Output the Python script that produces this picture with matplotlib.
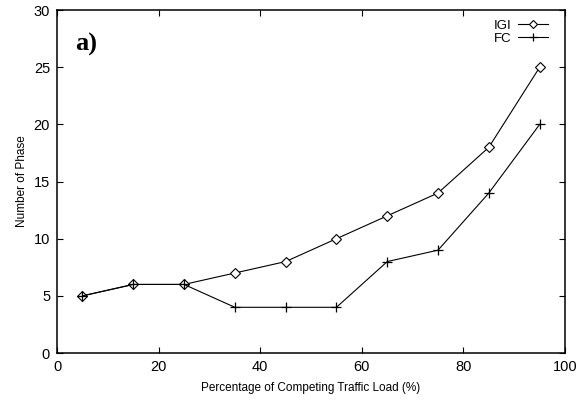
import matplotlib
matplotlib.use('Agg')
import matplotlib.pyplot as plt

# data
load = [5, 15, 25, 35, 45, 55, 65, 75, 85, 95]
igi = [5, 6, 6, 7, 8, 10, 12, 14, 18, 25]
fc = [5, 6, 6, 4, 4, 4, 8, 9, 14, 20]
xticks = [0, 20, 40, 60, 80, 100]
yticks = [0, 5, 10, 15, 20, 25, 30]

plt.rcParams['font.family'] = ['Liberation Sans', 'DejaVu Sans']

fig = plt.figure(figsize=(5.88, 4.03), dpi=100)
ax = fig.add_axes([0.097, 0.124, 0.864, 0.851])

ax.plot(load, igi, color='black', linewidth=0.8, marker='D', markersize=5,
        markerfacecolor='white', markeredgewidth=0.8, label='IGI')
ax.plot(load, fc, color='black', linewidth=0.8, marker='+', markersize=7,
        markeredgewidth=0.9, label='FC')

ax.set_xlim(0, 100)
ax.set_ylim(0, 30)
ax.set_xticks(xticks)
ax.set_yticks(yticks)
ax.tick_params(direction='in', top=True, right=True, labelsize=10.5, length=4,
               pad=5)
for s in ax.spines.values():
    s.set_linewidth(1.1)

ax.set_xlabel('Percentage of Competing Traffic Load (%)', fontsize=8.5, labelpad=6)
ax.set_ylabel('Number of Phase', fontsize=8.5, labelpad=4)

ax.text(3.5, 27, 'a)', fontsize=19, fontweight='bold', family='Liberation Serif',
        va='center')

ax.legend(loc='upper right', frameon=False, markerfirst=False, fontsize=9.5,
          handlelength=2.3, handletextpad=0.5, borderaxespad=0.3,
          labelspacing=0.1, markerscale=0.8, bbox_to_anchor=(0.985, 1.0))

fig.savefig('out.png', dpi=100)
